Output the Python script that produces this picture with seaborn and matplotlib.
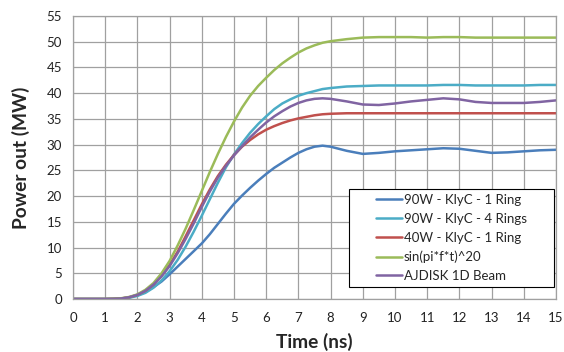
import numpy as np
import pandas as pd
import matplotlib
matplotlib.use("Agg")
import matplotlib.pyplot as plt
import seaborn as sns
from matplotlib.patches import Rectangle

time_ns = [0, 0.5, 1, 1.25, 1.5, 1.75, 2, 2.25, 2.5, 2.75, 3, 3.25, 3.5, 3.75, 4,
           4.25, 4.5, 4.75, 5, 5.25, 5.5, 5.75, 6, 6.25, 6.5, 6.75, 7, 7.25, 7.5,
           7.75, 8, 8.5, 9, 9.5, 10, 10.5, 11, 11.5, 12, 12.5, 13, 13.5, 14, 14.5, 15]

blue_90w_1ring = [0, 0, 0, 0.02, 0.08, 0.3, 0.7, 1.4, 2.3, 3.4, 4.8, 6.3, 7.8, 9.3, 10.8,
                  12.6, 14.6, 16.6, 18.5, 20.1, 21.6, 23.0, 24.3, 25.5, 26.5, 27.5, 28.4, 29.1, 29.6,
                  29.8, 29.6, 28.8, 28.2, 28.4, 28.7, 28.9, 29.1, 29.3, 29.2, 28.8, 28.4, 28.5, 28.7, 28.9, 29.0]

cyan_90w_4rings = [0, 0, 0, 0.02, 0.08, 0.25, 0.6, 1.2, 2.2, 3.6, 5.4, 7.6, 10.2, 13.1, 16.2,
                   19.4, 22.6, 25.6, 28.1, 30.3, 32.3, 34.0, 35.5, 36.9, 38.0, 38.8, 39.5, 40.0, 40.4,
                   40.8, 41.0, 41.3, 41.4, 41.5, 41.5, 41.5, 41.5, 41.6, 41.6, 41.5, 41.5, 41.5, 41.5, 41.6, 41.6]

red_40w_1ring = [0, 0, 0, 0.03, 0.1, 0.35, 0.8, 1.6, 2.8, 4.5, 6.6, 9.2, 12.2, 15.3, 18.4,
                 21.3, 23.9, 26.1, 28.0, 29.6, 30.9, 32.0, 32.9, 33.6, 34.2, 34.7, 35.1, 35.4, 35.7,
                 35.9, 36.0, 36.1, 36.1, 36.1, 36.1, 36.1, 36.1, 36.1, 36.1, 36.1, 36.1, 36.1, 36.1, 36.1, 36.1]

green_sin20 = [0, 0, 0, 0.05, 0.15, 0.4, 0.9, 1.8, 3.1, 5.0, 7.4, 10.4, 13.7, 17.3, 21.0,
               24.7, 28.2, 31.5, 34.5, 37.2, 39.5, 41.4, 43.0, 44.5, 45.8, 46.9, 47.9, 48.7, 49.3,
               49.8, 50.1, 50.5, 50.8, 50.9, 50.9, 50.9, 50.8, 50.9, 50.9, 50.8, 50.8, 50.8, 50.8, 50.8, 50.8]

purple_ajdisk = [0, 0, 0, 0.03, 0.1, 0.35, 0.8, 1.6, 2.8, 4.4, 6.4, 8.9, 11.7, 14.7, 17.9,
                 20.9, 23.6, 25.9, 27.9, 29.7, 31.4, 32.9, 34.3, 35.5, 36.5, 37.4, 38.1, 38.6, 38.9,
                 39.0, 38.9, 38.4, 37.8, 37.7, 38.0, 38.4, 38.7, 39.0, 38.8, 38.3, 38.1, 38.1, 38.1, 38.3, 38.6]

series_names = ["90W - KlyC - 1 Ring", "90W - KlyC - 4 Rings", "40W - KlyC - 1 Ring",
                "sin(pi*f*t)^20", "AJDISK 1D Beam"]
series_values = [blue_90w_1ring, cyan_90w_4rings, red_40w_1ring, green_sin20, purple_ajdisk]
colors = ["#4A7EBB", "#4BACC6", "#C0504D", "#9BBB59", "#8064A2"]

x_ticks = list(range(0, 16))
y_ticks = list(range(0, 56, 5))

rows = []
for name, vals in zip(series_names, series_values):
    for t, v in zip(time_ns, vals):
        rows.append({"t": t, "P": v, "series": name})
df = pd.DataFrame(rows)

sns.set_theme(style="white")
plt.rcParams["font.family"] = ["Lato", "DejaVu Sans"]

fig = plt.figure(figsize=(5.64, 3.52), dpi=100)
ax = fig.add_axes([73 / 564, 1 - 299 / 352, (556 - 73) / 564, (299 - 16) / 352])

sns.lineplot(data=df, x="t", y="P", hue="series", hue_order=series_names,
             palette=colors, linewidth=1.8, ax=ax, legend=True)

ax.set_xlim(0, 15)
ax.set_ylim(0, 55)
ax.set_xticks(x_ticks)
ax.set_yticks(y_ticks)
ax.grid(True, color="#A0A0A0", linewidth=0.9)
ax.set_axisbelow(True)
for s in ax.spines.values():
    s.set_color("#A0A0A0")
    s.set_linewidth(0.9)
ax.tick_params(axis="both", length=4, width=0.9, color="#A0A0A0",
               labelsize=9.5, labelcolor="#222222", direction="out")
ax.tick_params(axis="x", pad=5)
ax.tick_params(axis="y", pad=4)
ax.set_xlabel("Time (ns)", fontsize=13.8, fontweight="bold", labelpad=7)
ax.set_ylabel("Power out (MW)", fontsize=13.8, fontweight="bold", labelpad=12)

handles, labels = ax.get_legend_handles_labels()
ax.get_legend().remove()
rect = Rectangle((349 / 564, 1 - 287 / 352), 205 / 564, 98 / 352, transform=fig.transFigure,
                 facecolor="white", edgecolor="black", linewidth=0.8, zorder=4, clip_on=False)
ax.add_artist(rect)
leg = ax.legend(handles, labels, loc="upper left", bbox_to_anchor=(376 / 564, 1 - 194 / 352),
                bbox_transform=fig.transFigure, frameon=False, fontsize=9.5,
                handlelength=2.0, handletextpad=0.1, labelspacing=0.52,
                borderpad=0, borderaxespad=0)
leg.set_zorder(5)

fig.savefig("out.png", dpi=100)
